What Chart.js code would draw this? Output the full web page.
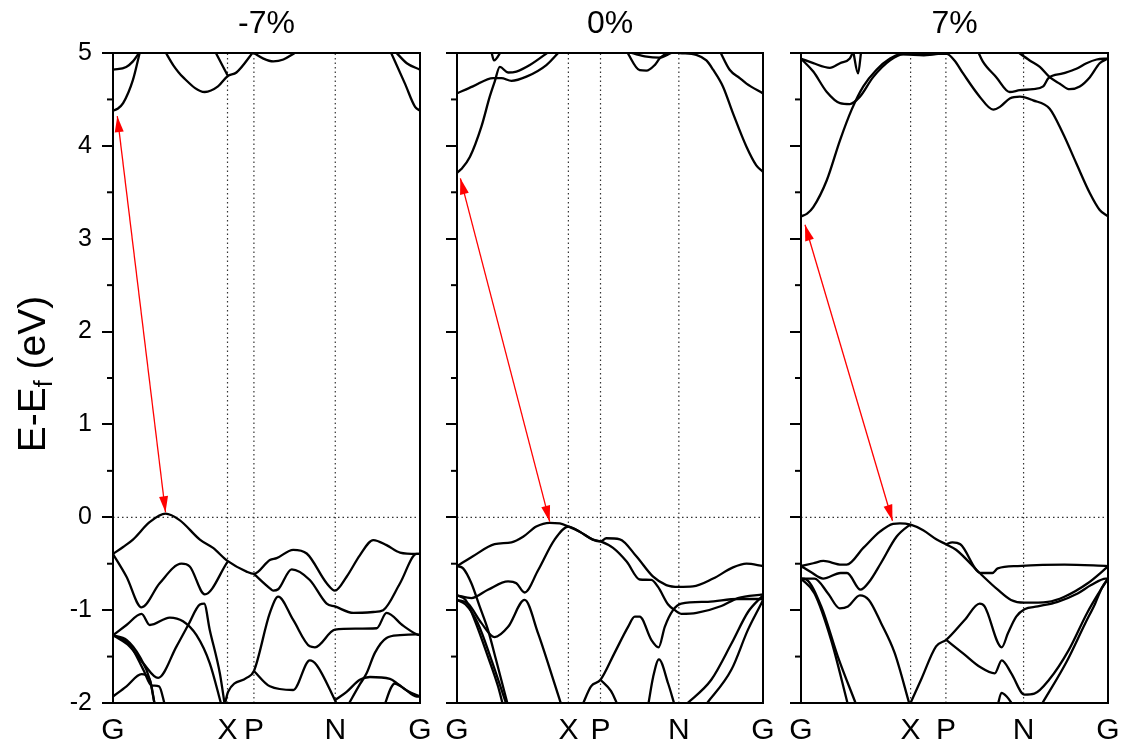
<!DOCTYPE html>
<html>
<head>
<meta charset="utf-8">
<script src="https://cdn.jsdelivr.net/npm/chart.js@4.4.1/dist/chart.umd.min.js"></script>
<style>
  body { margin: 0; background: #fff; }
  #wrap { position: relative; width: 1125px; height: 747px; }
  canvas { position: absolute; left: 0; top: 0; }
</style>
</head>
<body>
<div id="wrap">
  <canvas id="panelM7" width="1125" height="747"></canvas>
  <canvas id="panel0" width="1125" height="747"></canvas>
  <canvas id="panelP7" width="1125" height="747"></canvas>
</div>
<script>
// k-path labels and positions (fraction of path) for each strain
const kLabels = ["G", "X", "P", "N", "G"];
const kPathM7 = [0, 0.373, 0.459, 0.724, 1];
const kPath0 = [0, 0.364, 0.469, 0.725, 1];
const kPathP7 = [0, 0.357, 0.472, 0.725, 1];
const yTicks = [-2, -1, 0, 1, 2, 3, 4, 5];
const yMinorTicks = [-1.5, -0.5, 0.5, 1.5, 2.5, 3.5, 4.5];
const panelTitles = ["-7%", "0%", "7%"];

// ---- -7% bands: [k, E] ----
const m7c1L = [[0,4.38],[0.015,4.40],[0.033,4.46],[0.065,4.71],[0.089,5.03]];
const m7c1R = [[0.902,5.03],[0.951,4.67],[0.984,4.42],[1,4.38]];
const m7c2L = [[0,4.82],[0.043,4.85],[0.065,4.91],[0.089,5.02]];
const m7c2R = [[0.918,5.02],[0.957,4.89],[1,4.82]];
const m7c3 = [[0.169,5.02],[0.196,4.87],[0.228,4.74],[0.299,4.58],[0.342,4.64],[0.373,4.75],[0.402,4.79],[0.459,5.02]];
const m7c4 = [[0.332,5.02],[0.373,4.76]];
const m7c5 = [[0.459,5.0],[0.49,4.94],[0.522,4.91],[0.555,4.93],[0.592,5.0]];
const m7v1 = [[0,-0.395],[0.033,-0.32],[0.065,-0.24],[0.120,-0.05],[0.171,0.04],[0.217,-0.03],[0.283,-0.24],[0.326,-0.33],[0.373,-0.47],[0.435,-0.585],[0.459,-0.61],[0.511,-0.46],[0.533,-0.44],[0.587,-0.35],[0.631,-0.39],[0.696,-0.71],[0.723,-0.79],[0.761,-0.64],[0.804,-0.41],[0.848,-0.245],[0.891,-0.30],[0.935,-0.38],[0.989,-0.395],[1,-0.395]];
const m7v2 = [[0,-0.395],[0.044,-0.64],[0.093,-0.97],[0.152,-0.71],[0.223,-0.50],[0.250,-0.53],[0.299,-0.83],[0.373,-0.48]];
const m7v2b = [[0.459,-0.61],[0.511,-0.765],[0.522,-0.79],[0.538,-0.775],[0.582,-0.56],[0.641,-0.675],[0.696,-0.93],[0.723,-0.96],[0.783,-1.03],[0.848,-1.02],[0.880,-1.0],[0.935,-0.71],[0.989,-0.395],[1,-0.395]];
const m7v3 = [[0,-1.27],[0.044,-1.16],[0.093,-1.04],[0.120,-1.16],[0.185,-1.08],[0.228,-1.12],[0.272,-1.27],[0.315,-1.57],[0.353,-2.02]];
const m7v4 = [[0,-1.27],[0.054,-1.39],[0.098,-1.57],[0.147,-1.73],[0.207,-1.39],[0.245,-1.16],[0.283,-0.94],[0.297,-0.93],[0.315,-1.21],[0.348,-1.68],[0.364,-2.02]];
const m7v5 = [[0,-1.27],[0.044,-1.32],[0.087,-1.50],[0.120,-1.75],[0.136,-2.02]];
const m7v6 = [[0,-1.27],[0.054,-1.37],[0.10,-1.65],[0.125,-1.81],[0.15,-1.82],[0.169,-2.02]];
const m7v7 = [[0,-1.93],[0.044,-1.82],[0.093,-1.69],[0.120,-1.75],[0.136,-2.02]];
const m7v8 = [[0.364,-2.02],[0.375,-1.88],[0.435,-1.73],[0.459,-1.655],[0.511,-1.03],[0.538,-0.855],[0.587,-1.106],[0.641,-1.39],[0.658,-1.40],[0.723,-1.21],[0.79,-1.20],[0.859,-1.195],[0.891,-1.03],[0.946,-1.17],[0.989,-1.26],[1,-1.27]];
const m7v9 = [[0.459,-1.655],[0.511,-1.82],[0.587,-1.86],[0.641,-1.54],[0.663,-1.59],[0.723,-1.97],[0.730,-2.02]];
const m7v10 = [[0.723,-1.97],[0.761,-1.88],[0.804,-1.75],[0.837,-1.72],[0.902,-1.74],[0.93,-1.80],[0.96,-1.87],[1,-1.93]];
const m7v11 = [[0.885,-2.02],[0.905,-1.84],[0.918,-1.79],[0.946,-1.84],[0.989,-1.93],[1,-1.93]];
const m7v12 = [[0.766,-2.02],[0.804,-1.80],[0.826,-1.68],[0.853,-1.46],[0.891,-1.30],[0.935,-1.27],[0.989,-1.26],[1,-1.27]];
const arrowM7 = [[0.014,4.32],[0.171,0.054]];

// ---- 0% bands ----
const p0c1 = [[0,3.71],[0.014,3.75],[0.042,3.88],[0.080,4.21],[0.107,4.53],[0.123,4.69],[0.140,4.85],[0.167,4.79],[0.194,4.80],[0.238,4.87],[0.303,5.02]];
const p0c2 = [[0,4.565],[0.052,4.64],[0.118,4.73],[0.145,4.73],[0.178,4.70],[0.227,4.745],[0.292,4.87],[0.336,5.02]];
const p0c3 = [[0.112,5.02],[0.121,4.92],[0.145,5.02]];
const p0c4 = [[0.554,5.02],[0.597,4.815],[0.619,4.81],[0.646,4.87],[0.662,4.94],[0.695,5.02]];
const p0c5 = [[0.57,5.0],[0.62,4.96],[0.66,4.95],[0.70,5.0]];
const p0c6 = [[0.728,5.0],[0.782,4.98],[0.815,4.92],[0.837,4.82],[0.869,4.64],[0.902,4.35],[0.946,3.99],[0.978,3.79],[1,3.72]];
const p0c7 = [[0.859,5.02],[0.891,4.82],[0.924,4.73],[0.946,4.67],[1,4.565]];
const p0v1 = [[0,-0.525],[0.052,-0.42],[0.123,-0.29],[0.178,-0.27],[0.216,-0.21],[0.259,-0.10],[0.303,-0.06],[0.336,-0.065],[0.364,-0.10],[0.401,-0.155],[0.444,-0.24],[0.469,-0.26],[0.488,-0.226],[0.532,-0.237],[0.586,-0.42],[0.641,-0.64],[0.684,-0.73],[0.725,-0.75],[0.771,-0.745],[0.837,-0.66],[0.902,-0.54],[0.946,-0.50],[1,-0.525]];
const p0v2 = [[0,-0.84],[0.047,-0.87],[0.101,-0.78],[0.167,-0.69],[0.194,-0.71],[0.221,-0.81],[0.265,-0.57],[0.319,-0.24],[0.364,-0.10],[0.401,-0.155],[0.444,-0.24],[0.469,-0.26],[0.51,-0.33],[0.555,-0.48],[0.597,-0.67],[0.635,-0.675],[0.657,-0.75],[0.690,-0.94],[0.712,-1.0],[0.733,-1.04],[0.783,-1.03],[0.864,-0.955],[0.918,-0.87],[1,-0.83]];
const p0v3 = [[0,-0.89],[0.036,-0.93],[0.080,-1.14],[0.123,-1.29],[0.167,-1.18],[0.221,-0.89],[0.265,-1.25],[0.308,-1.68],[0.341,-2.02]];
const p0v4 = [[0,-0.525],[0.020,-0.55],[0.047,-0.71],[0.074,-0.96],[0.101,-1.21],[0.128,-1.54],[0.166,-2.02]];
const p0v5 = [[0,-0.84],[0.028,-0.89],[0.058,-1.11],[0.101,-1.50],[0.134,-1.82],[0.150,-2.02]];
const p0v6 = [[0,-0.89],[0.028,-0.94],[0.068,-1.14],[0.113,-1.54],[0.162,-2.02]];
const p0v7 = [[0.410,-2.02],[0.438,-1.82],[0.469,-1.75],[0.515,-1.46],[0.559,-1.18],[0.581,-1.07],[0.597,-1.07],[0.635,-1.32],[0.659,-1.40],[0.679,-1.18],[0.706,-1.0],[0.733,-0.93],[0.820,-0.91],[0.918,-0.88],[1,-0.88]];
const p0v8 = [[0.469,-1.75],[0.503,-1.87],[0.525,-2.02]];
const p0v9 = [[0.625,-2.02],[0.641,-1.72],[0.660,-1.53],[0.690,-1.79],[0.711,-2.02]];
const p0v10 = [[0.747,-2.02],[0.831,-1.75],[0.897,-1.36],[0.951,-1.02],[1,-0.84]];
const p0v11 = [[0.813,-2.02],[0.897,-1.64],[0.951,-1.21],[0.994,-0.93],[1,-0.89]];
const arrow0 = [[0.011,3.65],[0.303,-0.047]];

// ---- 7% bands ----
const p7c1 = [[0,3.24],[0.02,3.27],[0.040,3.34],[0.084,3.63],[0.127,4.06],[0.165,4.39],[0.203,4.64],[0.246,4.82],[0.290,4.94],[0.322,4.985],[0.36,4.99],[0.40,4.98],[0.44,4.99],[0.474,4.99],[0.50,4.92],[0.528,4.78],[0.582,4.53],[0.626,4.39],[0.648,4.42],[0.680,4.51],[0.713,4.53],[0.756,4.49],[0.810,4.40],[0.853,4.135],[0.897,3.81],[0.941,3.49],[0.973,3.31],[1,3.24]];
const p7c2 = [[0,4.94],[0.040,4.89],[0.094,4.84],[0.127,4.89],[0.159,4.94],[0.171,5.02]];
const p7c3 = [[0.170,5.02],[0.186,4.78],[0.196,5.02]];
const p7c4 = [[0,4.94],[0.040,4.80],[0.084,4.58],[0.127,4.46],[0.159,4.45],[0.192,4.53],[0.235,4.74],[0.290,4.92],[0.333,4.985],[0.40,4.975],[0.47,5.0]];
const p7c5 = [[0.576,5.02],[0.592,4.91],[0.636,4.74],[0.680,4.58],[0.713,4.60],[0.756,4.61],[0.789,4.64],[0.806,4.73],[0.853,4.78],[0.897,4.83],[0.930,4.89],[0.963,4.93],[1,4.94]];
const p7c6 = [[0.702,5.02],[0.745,4.92],[0.778,4.85],[0.810,4.74],[0.843,4.67],[0.875,4.61],[0.908,4.64],[0.941,4.74],[0.973,4.89],[1,4.94]];
const p7v1 = [[0,-0.525],[0.040,-0.495],[0.073,-0.47],[0.132,-0.51],[0.149,-0.51],[0.203,-0.33],[0.257,-0.155],[0.300,-0.07],[0.322,-0.065],[0.357,-0.08],[0.398,-0.14],[0.442,-0.24],[0.472,-0.29],[0.505,-0.35],[0.582,-0.60],[0.641,-0.78],[0.684,-0.89],[0.728,-0.92],[0.804,-0.91],[0.858,-0.855],[0.934,-0.71],[1,-0.53]];
const p7v2 = [[0,-0.525],[0.032,-0.59],[0.072,-0.66],[0.129,-0.60],[0.150,-0.60],[0.194,-0.78],[0.221,-0.70],[0.260,-0.495],[0.311,-0.21],[0.349,-0.095],[0.357,-0.08]];
const p7v3 = [[0.472,-0.29],[0.493,-0.27],[0.519,-0.29],[0.585,-0.60],[0.623,-0.60],[0.641,-0.55],[0.706,-0.525],[0.858,-0.51],[1,-0.525]];
const p7v4 = [[0,-0.66],[0.044,-0.66],[0.088,-0.82],[0.126,-0.98],[0.153,-0.96],[0.192,-0.84],[0.221,-0.89],[0.261,-1.14],[0.305,-1.46],[0.354,-2.02]];
const p7v5 = [[0,-0.66],[0.044,-0.82],[0.098,-1.32],[0.153,-2.02]];
const p7v6 = [[0,-0.66],[0.017,-0.67],[0.066,-0.96],[0.120,-1.50],[0.180,-2.02]];
const p7v7 = [[0.354,-2.02],[0.391,-1.75],[0.440,-1.39],[0.473,-1.32],[0.533,-1.106],[0.582,-0.93],[0.598,-0.96],[0.654,-1.40],[0.674,-1.25],[0.701,-1.07],[0.728,-0.99],[0.771,-0.96],[0.836,-0.91],[0.901,-0.82],[0.945,-0.73],[0.993,-0.66],[1,-0.66]];
const p7v8 = [[0.473,-1.32],[0.533,-1.48],[0.582,-1.61],[0.631,-1.68],[0.654,-1.54],[0.685,-1.68],[0.728,-1.91],[0.760,-1.90],[0.808,-1.75],[0.872,-1.43],[0.932,-1.03],[0.967,-0.83],[1,-0.66]];
const p7v9 = [[0.641,-2.02],[0.653,-1.89],[0.670,-1.93],[0.690,-2.02]];
const p7v10 = [[0.783,-2.02],[0.866,-1.55],[0.926,-1.14],[0.958,-0.93],[0.98,-0.76],[1,-0.66]];
const arrowP7 = [[0.013,3.15],[0.298,-0.037]];

const FONT = "'Liberation Sans', Arial, sans-serif";

function drawArrowHead(ctx, tx, ty, fx, fy) {
  const ang = Math.atan2(ty - fy, tx - fx);
  const len = 16, half = 4.5;
  ctx.beginPath();
  ctx.moveTo(tx, ty);
  ctx.lineTo(tx - len * Math.cos(ang) + half * Math.sin(ang), ty - len * Math.sin(ang) - half * Math.cos(ang));
  ctx.lineTo(tx - len * Math.cos(ang) - half * Math.sin(ang), ty - len * Math.sin(ang) + half * Math.cos(ang));
  ctx.closePath();
  ctx.fill();
}

function makePanel(id, title, kPath, bands, arrow, padLeft, padRight, withLabels) {
  const datasets = [];
  bands.forEach(b => {
    datasets.push({
      data: b.map(p => ({ x: p[0], y: p[1] })),
      borderColor: "#000",
      borderWidth: 2.3,
      pointRadius: 0,
      showLine: true,
      fill: false,
      cubicInterpolationMode: "monotone",
      order: 0
    });
  });
  // dotted guides at X, P, N and at the Fermi level
  kPath.slice(1, 4).forEach(k => {
    datasets.push({
      data: [{ x: k, y: -2 }, { x: k, y: 5 }],
      borderColor: "#333", borderWidth: 1.2, borderDash: [1.5, 3],
      pointRadius: 0, showLine: true, order: 5
    });
  });
  datasets.push({
    data: [{ x: 0, y: 0 }, { x: 1, y: 0 }],
    borderColor: "#333", borderWidth: 1.2, borderDash: [1.5, 3],
    pointRadius: 0, showLine: true, order: 5
  });

  const decor = {
    id: "decor" + id,
    afterDatasetsDraw(chart) {
      const { ctx, chartArea: a, scales } = chart;
      const xs = scales.x, ys = scales.y;
      ctx.save();
      // minor ticks
      ctx.strokeStyle = "#000";
      ctx.lineWidth = 2;
      yMinorTicks.forEach(v => {
        const py = ys.getPixelForValue(v);
        ctx.beginPath();
        ctx.moveTo(a.left - 6, py);
        ctx.lineTo(a.left, py);
        ctx.stroke();
      });
      // frame
      ctx.strokeRect(a.left, a.top, a.right - a.left, a.bottom - a.top);
      // double-headed red arrow
      const x1 = xs.getPixelForValue(arrow[0][0]), y1 = ys.getPixelForValue(arrow[0][1]);
      const x2 = xs.getPixelForValue(arrow[1][0]), y2 = ys.getPixelForValue(arrow[1][1]);
      ctx.strokeStyle = "#ff0000";
      ctx.fillStyle = "#ff0000";
      ctx.lineWidth = 1.3;
      ctx.beginPath();
      ctx.moveTo(x1, y1);
      ctx.lineTo(x2, y2);
      ctx.stroke();
      drawArrowHead(ctx, x1, y1, x2, y2);
      drawArrowHead(ctx, x2, y2, x1, y1);
      // y axis title with subscript
      if (withLabels) {
        ctx.fillStyle = "#000";
        ctx.translate(31, 374);
        ctx.rotate(-Math.PI / 2);
        ctx.textBaseline = "alphabetic";
        const big = "39px " + FONT, small = "25px " + FONT;
        ctx.font = big;
        const w1 = ctx.measureText("E-E").width;
        const w3 = ctx.measureText(" (eV)").width;
        ctx.font = small;
        const w2 = ctx.measureText("f").width;
        let x = -(w1 + w2 + w3) / 2;
        ctx.font = big;
        ctx.textAlign = "left";
        ctx.fillText("E-E", x, 14);
        x += w1;
        ctx.font = small;
        ctx.fillText("f", x, 21);
        x += w2;
        ctx.font = big;
        ctx.fillText(" (eV)", x, 14);
      }
      ctx.restore();
    }
  };

  return new Chart(document.getElementById(id).getContext("2d"), {
    type: "scatter",
    data: { datasets },
    options: {
      responsive: false,
      animation: false,
      layout: { padding: { left: padLeft, right: padRight, top: 0, bottom: 0 } },
      plugins: {
        legend: { display: false },
        tooltip: { enabled: false },
        title: {
          display: true, text: title, color: "#000", fullSize: false,
          font: { family: FONT, size: 32, weight: "normal" },
          padding: { top: 5, bottom: 9.6 }
        }
      },
      scales: {
        x: {
          type: "linear", min: 0, max: 1,
          afterBuildTicks: s => { s.ticks = kPath.map(v => ({ value: v })); },
          afterFit: s => { s.height = 44; },
          ticks: {
            autoSkip: false, maxRotation: 0, color: "#000", padding: 2,
            font: { family: FONT, size: 30 },
            callback: (v, i) => kLabels[i]
          },
          grid: { display: false },
          border: { display: false }
        },
        y: {
          type: "linear", min: -2, max: 5,
          afterBuildTicks: s => { s.ticks = yTicks.map(v => ({ value: v })); },
          afterFit: s => { s.width = 60; },
          ticks: {
            color: "#000", padding: 10,
            font: { family: FONT, size: 25 },
            callback: v => (withLabels ? String(v) : "")
          },
          grid: { drawOnChartArea: false, drawTicks: true, tickLength: 11, color: "#000", lineWidth: 2 },
          border: { display: false }
        }
      }
    },
    plugins: [decor]
  });
}

makePanel("panelM7", panelTitles[0], kPathM7,
  [m7c1L, m7c1R, m7c2L, m7c2R, m7c3, m7c4, m7c5, m7v1, m7v2, m7v2b, m7v3, m7v4, m7v5, m7v6, m7v7, m7v8, m7v9, m7v10, m7v11, m7v12],
  arrowM7, 53, 705, true);
makePanel("panel0", panelTitles[1], kPath0,
  [p0c1, p0c2, p0c3, p0c4, p0c5, p0c6, p0c7, p0v1, p0v2, p0v3, p0v4, p0v5, p0v6, p0v7, p0v8, p0v9, p0v10, p0v11],
  arrow0, 397, 362, false);
makePanel("panelP7", panelTitles[2], kPathP7,
  [p7c1, p7c2, p7c3, p7c4, p7c5, p7c6, p7v1, p7v2, p7v3, p7v4, p7v5, p7v6, p7v7, p7v8, p7v9, p7v10],
  arrowP7, 741, 17, false);
</script>
</body>
</html>
